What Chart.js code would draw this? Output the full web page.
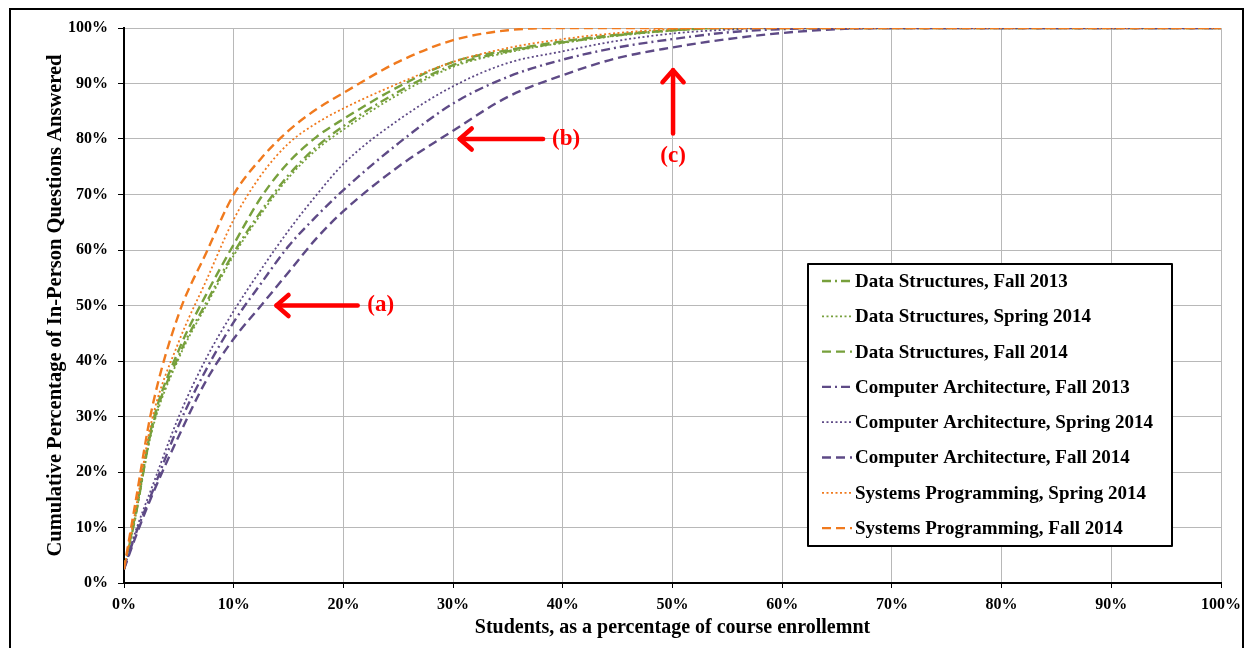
<!DOCTYPE html>
<html>
<head>
<meta charset="utf-8">
<title>Cumulative in-person questions</title>
<script src="https://cdn.jsdelivr.net/npm/chart.js@4.4.1/dist/chart.umd.min.js"></script>
<style>
  html, body { margin: 0; padding: 0; background: #fff; }
</style>
</head>
<body>
<canvas id="myChart" width="1254" height="648"></canvas>
<script>
// ============== Data ==============
const xs = [0, 1, 2.5, 5, 7.5, 10, 12.5, 15, 17.5, 20, 25, 30, 35, 40, 45, 50, 55, 60, 65, 70, 80, 90, 100];

const dsFall2013   = [2.5, 11.5, 27.5, 41, 50.5, 59.5, 67, 73.5, 78.5, 82.3, 88.5, 93.3, 95.8, 97.4, 98.7, 99.6, 100, 100, 100, 100, 100, 100, 100];
const dsSpring2014 = [2.5, 11.5, 27, 40.5, 50, 59, 66.5, 73, 78, 81.7, 88, 93, 95.6, 97.3, 98.6, 99.5, 100, 100, 100, 100, 100, 100, 100];
const dsFall2014   = [2.5, 12, 28, 42, 52, 61, 69.5, 75.8, 80.3, 83.6, 89.4, 93.9, 96, 97.6, 98.8, 99.6, 100, 100, 100, 100, 100, 100, 100];
const caFall2013   = [2.5, 8.5, 16, 28.5, 38.5, 47, 54, 60.7, 66, 70.8, 79.2, 86.4, 91.2, 94.3, 96.5, 98, 99.2, 99.8, 100, 100, 100, 100, 100];
const caSpring2014 = [2.5, 9, 17, 30, 40.5, 49, 56.5, 63.5, 69.8, 75.5, 83.4, 89.5, 93.7, 95.8, 97.7, 99, 99.7, 100, 100, 100, 100, 100, 100];
const caFall2014   = [2.5, 8, 15.5, 26.5, 36.5, 44, 50, 56, 62, 67, 75, 81.5, 87.6, 91.5, 94.6, 96.5, 98, 99.1, 99.8, 100, 100, 100, 100];
const spSpring2014 = [2.5, 12.5, 29, 43.5, 54.5, 65.5, 73.5, 79.2, 82.8, 85.5, 90, 93.9, 96.4, 98, 99.1, 99.8, 100, 100, 100, 100, 100, 100, 100];
const spFall2014   = [2.5, 14, 31, 48.5, 59.5, 70, 76.5, 81.5, 85.3, 88.3, 93.9, 97.8, 99.6, 100, 100, 100, 100, 100, 100, 100, 100, 100, 100];

const seriesNames = [
  "Data Structures, Fall 2013",
  "Data Structures, Spring 2014",
  "Data Structures, Fall 2014",
  "Computer Architecture, Fall 2013",
  "Computer Architecture, Spring 2014",
  "Computer Architecture, Fall 2014",
  "Systems Programming, Spring 2014",
  "Systems Programming, Fall 2014",
];
const seriesValues = [dsFall2013, dsSpring2014, dsFall2014, caFall2013, caSpring2014, caFall2014, spSpring2014, spFall2014];

const xTickLabels = ["0%", "10%", "20%", "30%", "40%", "50%", "60%", "70%", "80%", "90%", "100%"];
const yTickLabels = ["0%", "10%", "20%", "30%", "40%", "50%", "60%", "70%", "80%", "90%", "100%"];

// annotations: [label, arrow from (x,y), arrow to (x,y), label at (x,y)]
const notes = [
  ["(a)", [21.3, 50], [13.9, 50], [23.4, 50]],
  ["(b)", [38.2, 80], [30.6, 80], [40.3, 80]],
  ["(c)", [50.05, 81], [50.05, 92.4], [50.05, 77]],
];

// ============== Styles ==============
const GREEN = "#77a03c";
const PURPLE = "#5e4a86";
const ORANGE = "#f07a1e";
const DASHDOT = [9, 4, 2, 4];
const DOTTED = [2, 2.5];
const DASHED = [9, 5];
const seriesStyle = [
  [GREEN, DASHDOT], [GREEN, DOTTED], [GREEN, DASHED],
  [PURPLE, DASHDOT], [PURPLE, DOTTED], [PURPLE, DASHED],
  [ORANGE, DOTTED], [ORANGE, DASHED],
];
const SERIF = "'Liberation Serif', 'Times New Roman', serif";

function get_datasets() {
  return seriesNames.map((name, i) => ({
    label: name,
    data: xs.map((x, j) => ({ x: x, y: seriesValues[i][j] })),
    borderColor: seriesStyle[i][0],
    borderDash: seriesStyle[i][1],
    borderWidth: seriesStyle[i][1] === DOTTED ? 1.8 : 2.4,
    pointRadius: 0,
    fill: false,
    order: seriesNames.length - i,
    cubicInterpolationMode: "monotone",
  }));
}

// ============== Extra drawing: frame, arrows, legend box ==============
const figurePlugin = {
  id: "figureExtras",
  beforeDraw(chart) {
    const ctx = chart.ctx;
    ctx.save();
    ctx.fillStyle = "#fff";
    ctx.fillRect(0, 0, chart.width, chart.height);
    ctx.strokeStyle = "#000";
    ctx.lineWidth = 2;
    ctx.strokeRect(10, 9, 1233, 700);
    ctx.restore();
  },
  afterDatasetsDraw(chart) {
    const ctx = chart.ctx;
    const xS = chart.scales.x, yS = chart.scales.y;
    ctx.save();

    // arrows
    ctx.strokeStyle = "#ff0000";
    ctx.fillStyle = "#ff0000";
    ctx.lineWidth = 4.5;
    ctx.lineCap = "round";
    ctx.lineJoin = "round";
    notes.forEach(([label, from, to, at]) => {
      const x0 = xS.getPixelForValue(from[0]), y0 = yS.getPixelForValue(from[1]);
      const x1 = xS.getPixelForValue(to[0]), y1 = yS.getPixelForValue(to[1]);
      const ang = Math.atan2(y1 - y0, x1 - x0);
      ctx.beginPath();
      ctx.moveTo(x0, y0);
      ctx.lineTo(x1, y1);
      ctx.stroke();
      ctx.beginPath();
      ctx.moveTo(x1 - 16 * Math.cos(ang - 0.72), y1 - 16 * Math.sin(ang - 0.72));
      ctx.lineTo(x1, y1);
      ctx.lineTo(x1 - 16 * Math.cos(ang + 0.72), y1 - 16 * Math.sin(ang + 0.72));
      ctx.stroke();
      ctx.font = "bold 23px " + SERIF;
      ctx.textAlign = "center";
      ctx.textBaseline = "middle";
      ctx.fillText(label, xS.getPixelForValue(at[0]), yS.getPixelForValue(at[1]));
    });

    // legend box
    const bx = 808, by = 264, bw = 364, bh = 282;
    ctx.fillStyle = "#fff";
    ctx.fillRect(bx, by, bw, bh);
    ctx.strokeStyle = "#000";
    ctx.lineWidth = 2;
    ctx.lineCap = "butt";
    ctx.strokeRect(bx, by, bw, bh);
    chart.data.datasets.forEach((ds, i) => {
      const cy = 281 + i * 35.3;
      ctx.strokeStyle = ds.borderColor;
      ctx.lineWidth = ds.borderWidth;
      ctx.setLineDash(ds.borderDash);
      ctx.beginPath();
      ctx.moveTo(822, cy);
      ctx.lineTo(852, cy);
      ctx.stroke();
      ctx.setLineDash([]);
      ctx.fillStyle = "#000";
      ctx.font = "bold 19px " + SERIF;
      ctx.textAlign = "left";
      ctx.textBaseline = "middle";
      ctx.fillText(ds.label, 855, cy + 1);
    });
    ctx.restore();
  },
};

// ============== Chart ==============
const tickFont = { family: SERIF, weight: "bold", size: 16 };

const ctx = document.getElementById("myChart").getContext("2d");
const mychart = new Chart(ctx, {
  type: "line",
  data: { datasets: get_datasets() },
  options: {
    responsive: false,
    animation: false,
    layout: { padding: { top: 28, right: 33, left: 0, bottom: 0 } },
    plugins: { legend: { display: false }, tooltip: { enabled: false } },
    scales: {
      x: {
        type: "linear",
        min: 0,
        max: 100,
        ticks: {
          stepSize: 10,
          maxRotation: 0,
          padding: 7,
          color: "#000",
          font: tickFont,
          callback: (v) => xTickLabels[Math.round(v / 10)],
        },
        grid: { color: "#b8b8b8", lineWidth: 1, tickColor: "#000", tickLength: 5 },
        border: { color: "#000", width: 2 },
        title: {
          display: true,
          text: "Students, as a percentage of course enrollemnt",
          color: "#000",
          font: { family: SERIF, weight: "bold", size: 20 },
          padding: { top: 0, bottom: 8 },
        },
        afterFit: (s) => { s.height = 65; },
      },
      y: {
        min: 0,
        max: 100,
        ticks: {
          stepSize: 10,
          padding: 10,
          color: "#000",
          font: tickFont,
          callback: (v) => yTickLabels[Math.round(v / 10)],
        },
        grid: { color: "#b8b8b8", lineWidth: 1, tickColor: "#000", tickLength: 6 },
        border: { color: "#000", width: 2 },
        title: {
          display: true,
          text: "Cumulative Percentage of In-Person Questions Answered",
          color: "#000",
          font: { family: SERIF, weight: "bold", size: 20.5 },
          padding: { top: 43, bottom: 0 },
        },
        afterFit: (s) => { s.width = 124; },
      },
    },
  },
  plugins: [figurePlugin],
});
</script>
</body>
</html>
